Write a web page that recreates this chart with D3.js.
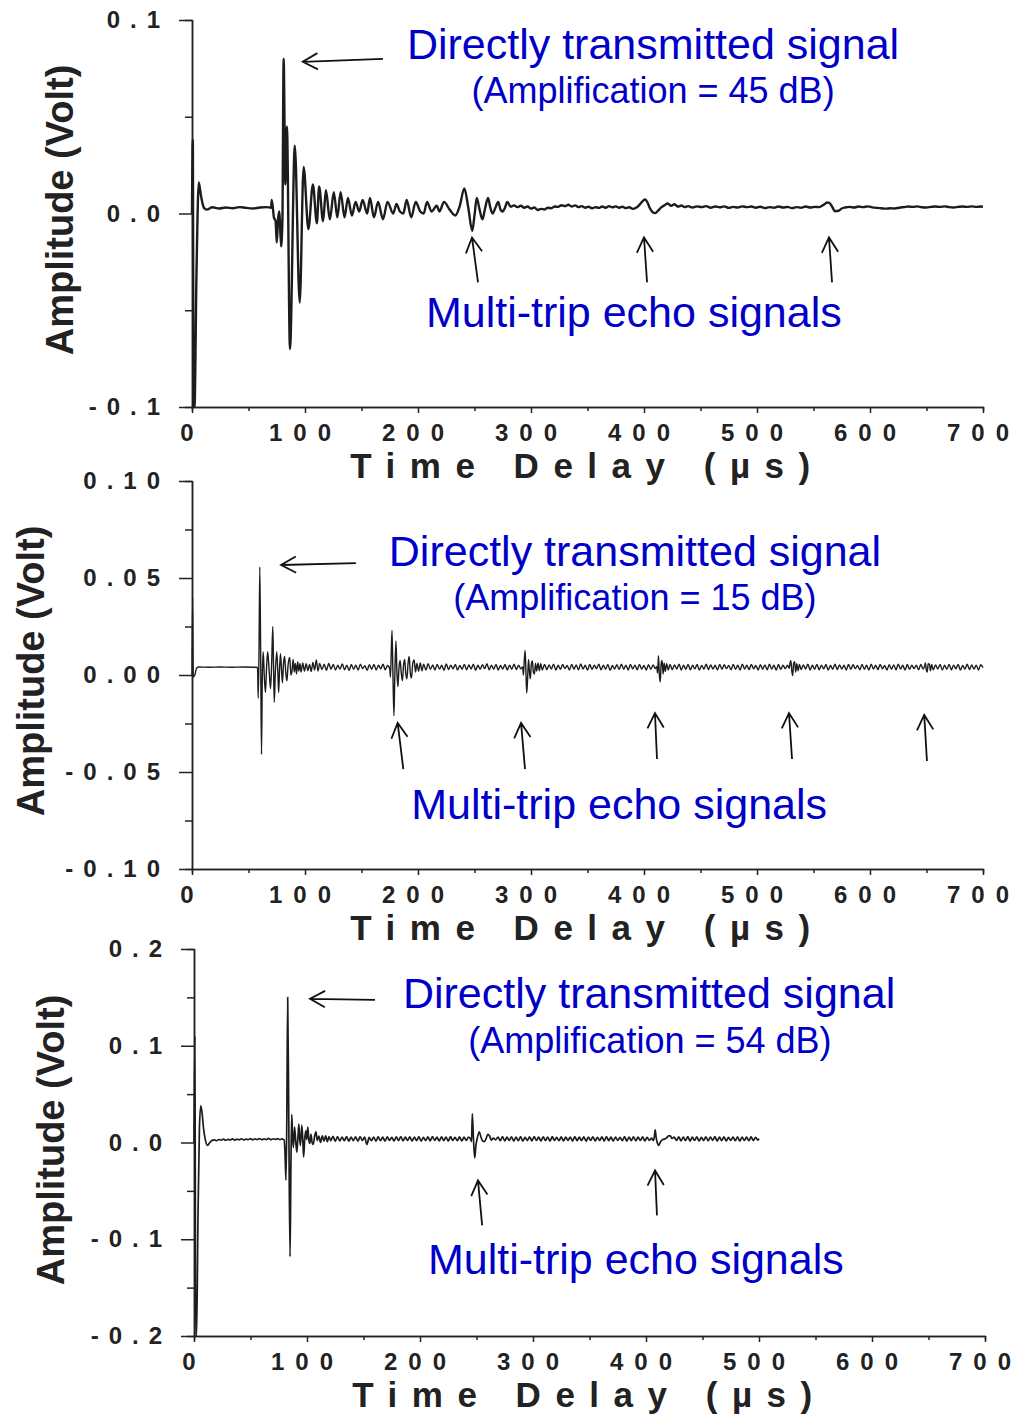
<!DOCTYPE html>
<html>
<head>
<meta charset="utf-8">
<script src="https://cdn.jsdelivr.net/npm/d3@7"></script>
<style>
  body { margin: 0; background: #fff; }
  text { font-family: "Liberation Sans", Arial, sans-serif; }
</style>
</head>
<body>
<svg id="chart" width="1022" height="1414"></svg>
<script>
// ---- data ----
var timeTicks = [0, 100, 200, 300, 400, 500, 600, 700];
var timeMinor = [50, 150, 250, 350, 450, 550, 650];

var ampTicks45 = [-0.1, 0, 0.1];
var ampLabels45 = ["-0.1", "0.0", "0.1"];
var ampMinor45 = [-0.05, 0.05];

var ampTicks15 = [-0.1, -0.05, 0, 0.05, 0.1];
var ampLabels15 = ["-0.10", "-0.05", "0.00", "0.05", "0.10"];
var ampMinor15 = [-0.075, -0.025, 0.025, 0.075];

var ampTicks54 = [-0.2, -0.1, 0, 0.1, 0.2];
var ampLabels54 = ["-0.2", "-0.1", "0.0", "0.1", "0.2"];
var ampMinor54 = [-0.15, -0.05, 0.05, 0.15];

var gains = ["45", "15", "54"];

// [time (us), amplitude (V)]
var sig45 = [[0,0],[0.7,0.038],[1.4,-0.1],[2.2,-0.1],[4,-0.03],[6,0.016],[8,0.009],[10.5,0.003],[13,0.002],[18,0.0032],[24,0.0026],[30,0.0031],[36,0.0027],[42,0.0033],[48,0.0029],[54,0.0026],[60,0.0031],[66,0.0033],[70,0.003],
  [70.6,0.007],[72.5,-0.002],[74,-0.004],[75,-0.015],[76.3,-0.002],[77.4,0.001],[78.8,-0.017],[80,-0.004],[81.1,0.08],[82.6,0.015],[84,0.045],[86.7,-0.07],[91,0.035],[95.3,-0.046],[98.8,0.024],[103,-0.008],
  [107,0.015],[110.5,-0.005],[112.5,0.014],[116,-0.004],[118.5,0.012],[122,-0.003],[125.5,0.011],[128.6,-0.002],[131.5,0.011],[135,-0.002],[138,0.008],[141.5,-0.001],[144.8,0.006],[148,0.001],[151,0.007],[155,0.0],[157.5,0.008],[161,-0.002],[164.7,0.006],[169,-0.003],[173,0.006],[178,0.0],[181,0.005],[184,0.001],[187,0.0],[190,0.007],[194,-0.002],[198,0.006],[202,0.001],[205,0.0],[208,0.006],[212,0.001],[216.6,0.004],[219,0.001],[223,0.006],[228,0.002],[233,-0.001],[237,0.004],
  [241,0.013],[244.5,0.003],[248,-0.009],[250,-0.001],[252,0.008],[254.5,0.002],[257,-0.003],[259.5,0.003],[262,0.008],[264,0.003],[266,0.0],[268.5,0.003],[271,0.006],[273,0.002],[275,0.001],[277,0.003],[279,0.006],
  [282,0.0035],[285,0.0042],[288,0.0033],[291,0.004],[294,0.003],[297,0.0036],[300,0.0025],[303,0.0031],[306,0.0018],[309,0.0024],[312,0.0021],[315,0.003],[318,0.0027],[321,0.0036],[324,0.0034],[327,0.0043],[330,0.0038],[333,0.0045],[336,0.0036],[339,0.0042],[342,0.0033],[345,0.0038],[348,0.003],[351,0.0035],[354,0.0027],[357,0.0033],[360,0.0029],[363,0.0036],[366,0.003],[369,0.0038],[372,0.0032],[375,0.0037],[378,0.003],[381,0.0035],[384,0.0028],[387,0.0032],[390,0.0024],[393,0.003],[396,0.0045],[399,0.0065],[401,0.0072],[403,0.0058],[405,0.003],[407.5,0.0008],[410,0.0002],[412.5,0.0015],[415,0.003],[418,0.0042],[421,0.0052],[424,0.004],[427,0.0048],[430,0.0036],[433,0.0041],[436,0.0033],[439,0.0038],
  [443,0.0031],[447,0.0037],[451,0.0033],[455,0.0038],[459,0.003],[463,0.0036],[467,0.0032],[471,0.0037],[475,0.0029],[479,0.0034],[483,0.0031],[487,0.0037],[491,0.0033],[495,0.0036],[499,0.003],[503,0.0035],[507,0.0028],[511,0.0033],[515,0.003],[519,0.0036],[523,0.0031],[527,0.0034],[531,0.0028],[535,0.0033],[539,0.003],[543,0.0036],[547,0.0031],[551,0.0034],[555,0.0033],[559,0.0045],[562,0.0057],[564,0.0055],[566.5,0.0035],[569,0.0012],[572,0.0014],[575,0.0026],[578,0.0031],
  [582,0.0034],[586,0.0031],[590,0.0036],[594,0.0033],[598,0.0037],[602,0.0032],[606,0.0029],[610,0.0027],[614,0.0025],[618,0.0027],[622,0.0026],[626,0.003],[630,0.0033],[634,0.0036],[638,0.0034],[642,0.0037],[646,0.0032],[650,0.0031],[654,0.0034],[658,0.0036],[662,0.0034],[666,0.0037],[670,0.0033],[674,0.0031],[678,0.0034],[682,0.0036],[686,0.0034],[690,0.0037],[694,0.0034],[698,0.0036],[700,0.0035]];

var sig15 = [[0,0],[0.5,0.04],[1.1,-0.001],[2.5,0.0],[4,0.0035],[6,0.0041],[15,0.004],[25,0.0041],[35,0.004],[45,0.0041],[55,0.004],[58,0.0039],
  [58.6,-0.012],[59.3,0.012],[60,0.0557],[60.8,0.008],[61.5,-0.041],[62.2,-0.002],[63,0.012],[64,-0.001],[65,-0.009],[66,0.004],[67,0.012],[68.4,0.001],[69.5,-0.007],[70.5,0.006],[71.5,0.025],[72.2,0.003],[72.8,-0.014],[73.8,0.002],[75,0.012],[76,0.001],[76.7,-0.009],[77.5,0.003],[78.3,0.011],[79.2,0.003],[80,-0.004],[81,0.006],[82,0.0095],[83,0.001],[84,-0.003],[85,0.005],[86.5,0.009],[87.5,0.0],[88.5,0.002],[89.5,0.008],[90.5,0.0015],[91.5,0.006],[92.5,0.0005],[93.5,0.0068],[94.5,0.002],[95.5,0.006],[96.5,0.0015],[98,0.0062],[99.5,0.002],[101,0.0058],[102.5,0.0022],[104,0.0055],[105.5,0.0018],[107,0.0065],[108.5,0.0025],[110,0.0078],[111.5,0.002],
  [113,0.006],[115,0.0028],[117,0.0056],[119,0.0024],[121,0.006],[123,0.003],[125,0.0055],[127,0.0026],[129,0.005],[131,0.0031],[133,0.0057],[135,0.0027],[137,0.005],[139,0.0023],[141,0.0054],[143,0.003],[145,0.0051],[147,0.0025],[149,0.0056],[151,0.0033],[153,0.0048],[155,0.0024],[157,0.0053],[159,0.0029],[161,0.0055],[163,0.0026],[165,0.005],[167,0.0032],[169,0.0056],[171,0.0027],[173,0.0049],[175,0.0032],
  [175.6,-0.001],[176.3,0.011],[177,0.023],[177.8,0.001],[178.7,-0.021],[179.5,0.0],[180.5,0.0175],[181.3,0.002],[182.2,-0.006],[183.2,0.004],[184.2,0.0075],[185.2,0.001],[186.2,-0.003],[187.2,0.005],[188.2,0.008],[189.2,0.0005],[190.2,-0.002],[191.2,0.006],[192.2,0.0095],[193.2,0.001],[194.2,-0.0015],[195.4,0.006],[196.6,0.0078],[197.8,0.0015],[199,0.006],[200.5,0.002],[202,0.0062],[203.5,0.0022],[205,0.0056],[207,0.0025],[209,0.0058],[211,0.0029],[213,0.0052],[215,0.0026],[217,0.0055],[219,0.0031],[221,0.005],[223,0.0024],[225,0.0057],[227,0.0028],[229,0.0051],[231,0.0032],[233,0.0055],[235,0.0025],[237,0.0049],[239,0.003],[241,0.0054],[243,0.0027],[245,0.0052],[247,0.0031],[249,0.0056],[251,0.0024],[253,0.005],[255,0.0029],[257,0.0053],[259,0.0033],[261,0.0058],[263,0.0027],[265,0.005],[267,0.003],[269,0.0055],[271,0.0025],[273,0.0049],[275,0.0031],[277,0.0054],[279,0.0026],[281,0.0051],[283,0.003],[285,0.0056],[287,0.0028],[289,0.005],[291,0.0032],[292.6,0.0042],
  [293.3,0.0],[294.1,0.008],[294.8,0.0127],[295.5,0.002],[296.2,-0.0093],[297,-0.002],[297.8,0.008],[298.6,0.002],[299.4,-0.002],[300.3,0.0055],[301.2,0.0072],[302.1,0.0015],[303,0.0005],[304,0.006],[305,0.002],[306.2,0.0062],[307.4,0.0022],[308.6,0.0058],[310,0.0026],[312,0.0055],[314,0.0028],[316,0.0052],[318,0.0031],[320,0.0056],[322,0.0025],[324,0.005],[326,0.0029],[328,0.0054],[330,0.0033],[332,0.0049],[334,0.0026],[336,0.0055],[338,0.003],[340,0.0052],[342,0.0027],[344,0.0057],[346,0.0031],[348,0.005],[350,0.0025],[352,0.0054],[354,0.0029],[356,0.0051],[358,0.0033],[360,0.0056],[362,0.0027],[364,0.005],[366,0.003],[368,0.0055],[370,0.0024],[372,0.0049],[374,0.0031],[376,0.0053],[378,0.0028],[380,0.0056],[382,0.003],[384,0.005],[386,0.0026],[388,0.0054],[390,0.0032],[392,0.0051],[394,0.0027],[396,0.0055],[398,0.003],[400,0.0049],[402,0.0025],[404,0.0053],[406,0.0029],[408,0.0052],[410,0.0033],[411.3,0.0043],
  [412,0.001],[412.8,0.0099],[413.6,0.0],[414.4,-0.0036],[415.2,0.006],[416,0.0075],[416.9,0.0005],[417.8,0.0062],[418.8,0.0018],[420,0.0058],[421.5,0.0025],[423,0.0055],[425,0.0028],[427,0.0052],[429,0.0031],[431,0.0056],[433,0.0026],[435,0.005],[437,0.003],[439,0.0055],[441,0.0027],[443,0.0051],[445,0.0032],[447,0.0054],[449,0.0025],[451,0.0049],[453,0.003],[455,0.0056],[457,0.0028],[459,0.0052],[461,0.0031],[463,0.005],[465,0.0026],[467,0.0055],[469,0.0029],[471,0.0053],[473,0.0033],[475,0.0049],[477,0.0027],[479,0.0054],[481,0.003],[483,0.0051],[485,0.0025],[487,0.0056],[489,0.0031],[491,0.005],[493,0.0028],[495,0.0055],[497,0.0032],[499,0.0049],[501,0.0026],[503,0.0053],[505,0.003],[507,0.0052],[509,0.0027],[511,0.0056],[513,0.0031],[515,0.005],[517,0.0025],[519,0.0054],[521,0.0029],[523,0.0051],[525,0.0033],[527,0.005],[528.5,0.0035],
  [529.3,0.0065],[530,0.0074],[530.8,0.002],[531.6,-0.0003],[532.4,0.006],[533.3,0.0068],[534.2,0.0015],[535.2,0.0058],[536.3,0.0022],[537.5,0.0055],[539,0.0028],[541,0.0052],[543,0.0031],[545,0.0056],[547,0.0026],[549,0.005],[551,0.003],[553,0.0055],[555,0.0027],[557,0.0051],[559,0.0032],[561,0.0054],[563,0.0025],[565,0.0049],[567,0.003],[569,0.0056],[571,0.0028],[573,0.0052],[575,0.0031],[577,0.005],[579,0.0026],[581,0.0055],[583,0.0029],[585,0.0053],[587,0.0033],[589,0.0049],[591,0.0027],[593,0.0054],[595,0.003],[597,0.0051],[599,0.0025],[601,0.0056],[603,0.0031],[605,0.005],[607,0.0028],[609,0.0055],[611,0.0032],[613,0.0049],[615,0.0026],[617,0.0053],[619,0.003],[621,0.0052],[623,0.0027],[625,0.0056],[627,0.0031],[629,0.005],[631,0.0025],[633,0.0054],[635,0.0029],[637,0.0051],[639,0.0033],[641,0.005],[643,0.0027],[645,0.0054],[647,0.0031],[648.3,0.0045],
  [649,0.0062],[649.8,0.0028],[650.6,0.0015],[651.5,0.0058],[652.5,0.0056],[653.5,0.0022],[654.6,0.0055],[656,0.0027],[658,0.0052],[660,0.0031],[662,0.0055],[664,0.0026],[666,0.005],[668,0.003],[670,0.0054],[672,0.0027],[674,0.0051],[676,0.0032],[678,0.0055],[680,0.0025],[682,0.0049],[684,0.003],[686,0.0056],[688,0.0028],[690,0.0052],[692,0.0031],[694,0.005],[696,0.0026],[698,0.0053],[700,0.0038]];

var sig54 = [[0,0],[0.8,0.11],[1.5,-0.2],[2.3,-0.2],[3.5,-0.08],[4.8,0.015],[6,0.038],[7,0.032],[8.5,0.014],[10,0.003],[12,-0.003],[14,0.0],[16,0.0022],[18,0.0028],[20,0.0018],[22,0.0031],[24,0.0024],[26,0.0035],[28,0.0022],[30,0.0033],[32,0.0026],[34,0.0037],[36,0.0025],[38,0.0034],[40,0.0028],[42,0.0039],[44,0.0026],[46,0.0036],[48,0.0029],[50,0.004],[52,0.0027],[54,0.0037],[56,0.003],[58,0.0041],[60,0.0028],[62,0.0038],[64,0.003],[66,0.0042],[68,0.0029],[70,0.0039],[72,0.0031],[74,0.004],[76,0.003],[78,0.0038],[79.8,0.0025],
  [80.5,-0.01],[81.4,-0.039],[82.1,0.02],[82.9,0.15],[83.9,0.02],[85,-0.118],[85.8,-0.02],[86.5,0.029],[87.3,0.004],[88,-0.005],[89,0.016],[90,0.002],[91,-0.01],[92,0.006],[92.8,0.019],[93.5,0.004],[94.2,-0.003],[95.4,0.018],[96.3,0.002],[97,-0.015],[98,0.004],[99,0.012],[99.8,0.003],[100.7,0.016],[101.6,0.003],[102.5,-0.001],[103.5,0.0085],[104.5,0.0],[105.5,-0.002],[106.8,0.007],[108,0.011],[109,0.002],[110.5,0.0065],[112,0.0],[113.5,0.007],[115,0.0015],[116.5,0.0068],[118,0.001],[119.5,0.0062],[121,0.0018],
  [123,0.0064],[125,0.0012],[127,0.006],[129,0.0016],[131,0.0057],[133,0.0019],[135,0.0061],[137,0.0014],[139,0.0056],[141,0.002],[143,0.0058],[145,0.0013],[147,0.0062],[149,0.0021],[151,0.0055],[153,-0.002],[155,0.0052],[157,0.0019],[159,0.0057],[161,0.0014],[163,0.006],[165,0.0018],[167,0.0055],[169,0.0015],[171,0.0059],[173,0.0022],[175,0.0054],[177,0.0016],[179,0.0058],[181,0.002],[183,0.0062],[185,0.0017],[187,0.0055],[189,0.0021],[191,0.0059],[193,0.0015],[195,0.0056],[197,0.0019],[199,0.006],[201,0.0014],[203,0.0054],[205,0.002],[207,0.0058],[209,0.0017],[211,0.0061],[213,0.0022],[215,0.0055],[217,0.0016],[219,0.0059],[221,0.002],[223,0.0056],[225,0.0015],[227,0.006],[229,0.0021],[231,0.0054],[233,0.0018],[235,0.0058],[237,0.0016],[239,0.0055],[241,0.0022],[243,0.0057],[245,0.0028],
  [245.6,0.001],[246.3,0.03],[247.3,0.004],[248.4,-0.016],[249.5,-0.003],[250.8,0.005],[252.5,0.011],[254,0.0055],[255.5,0.0015],[257,0.001],[258.5,0.004],[260,0.0085],[261.5,0.007],[263,0.0025],[265,0.0045],[267,0.0028],[269,0.0056],[271,0.0019],[273,0.006],[275,0.0016],[277,0.0055],[279,0.0021],[281,0.0059],[283,0.0015],[285,0.0056],[287,0.0019],[289,0.006],[291,0.0014],[293,0.0054],[295,0.002],[297,0.0058],[299,0.0017],[301,0.0061],[303,0.0022],[305,0.0055],[307,0.0016],[309,0.0059],[311,0.002],[313,0.0056],[315,0.0015],[317,0.006],[319,0.0021],[321,0.0054],[323,0.0018],[325,0.0058],[327,0.0016],[329,0.0055],[331,0.0022],[333,0.0057],[335,0.0015],[337,0.0061],[339,0.0019],[341,0.0055],[343,0.002],[345,0.0058],[347,0.0014],[349,0.0056],[351,0.0021],[353,0.0059],[355,0.0017],[357,0.0054],[359,0.0022],[361,0.0058],[363,0.0015],[365,0.0061],[367,0.0019],[369,0.0055],[371,0.0016],[373,0.0057],[375,0.0021],[377,0.0054],[379,0.0018],[381,0.006],[383,0.0015],[385,0.0056],[387,0.002],[389,0.0059],[391,0.0017],[393,0.0055],[395,0.0021],[397,0.0058],[399,0.0016],[401,0.0054],[403,0.0022],[405,0.0045],[406.5,0.002],
  [407.4,0.006],[408.1,0.013],[409,0.005],[410.2,-0.001],[411.2,-0.003],[412.5,0.0],[414,0.0025],[416,0.0035],[418,0.0045],[420,0.0068],[421.5,0.007],[423,0.0042],[425,0.0055],[427,0.0022],[429,0.0058],[431,0.0017],[433,0.0056],[435,0.002],[437,0.006],[439,0.0015],[441,0.0055],[443,0.0021],[445,0.0058],[447,0.0016],[449,0.0054],[451,0.002],[453,0.0059],[455,0.0017],[457,0.0056],[459,0.0022],[461,0.006],[463,0.0015],[465,0.0055],[467,0.0019],[469,0.0058],[471,0.0016],[473,0.0054],[475,0.0021],[477,0.0057],[479,0.0018],[481,0.0059],[483,0.0015],[485,0.0056],[487,0.0021],[489,0.0055],[491,0.0018],[493,0.0058],[495,0.002],[497,0.0054],[499,0.0024],[500,0.004]];

// ---- layout ----
var panels = [
  { sig: sig45, gain: gains[0], dom: [-0.1, 0.1], ticks: ampTicks45, labels: ampLabels45, minor: ampMinor45,
    left: 192, right: 983, top: 20, bottom: 407, stroke: 2.4, yTitle: [73, 210],
    directAt: [408, 0.0799], gainAt: [408, 0.0572], echoAt: [391, -0.0588],
    directArrow: [[169, 0.0799], [98, 0.0784]],
    echoArrows: [[[253.1, -0.0356], [247.8, -0.0124]], [[402.7, -0.0356], [400, -0.0124]], [[566.4, -0.0356], [563.7, -0.0124]]] },
  { sig: sig15, gain: gains[1], dom: [-0.1, 0.1], ticks: ampTicks15, labels: ampLabels15, minor: ampMinor15,
    left: 192, right: 983, top: 481, bottom: 869, stroke: 1.4, yTitle: [44, 671],
    directAt: [392, 0.0562], gainAt: [392, 0.0335], echoAt: [378, -0.0742],
    directArrow: [[145, 0.0577], [78.8, 0.0567]],
    echoArrows: [[[187, -0.0485], [182, -0.0247]], [[294.7, -0.0485], [291.2, -0.0247]], [[411.5, -0.0433], [409.7, -0.0196]],
                 [[531, -0.0433], [528.3, -0.0196]], [[650.4, -0.0443], [648, -0.0206]]] },
  { sig: sig54, gain: gains[2], dom: [-0.2, 0.2], ticks: ampTicks54, labels: ampLabels54, minor: ampMinor54,
    left: 194, right: 985, top: 949, bottom: 1336, stroke: 1.7, yTitle: [64, 1140],
    directAt: [402.7, 0.139], gainAt: [403.5, 0.0928], echoAt: [391, -0.136],
    directArrow: [[160.2, 0.1474], [102.7, 0.1485]],
    echoArrows: [[[255, -0.0856], [251.3, -0.0392]], [[409.7, -0.0753], [408, -0.0289]]] }
];

var svg = d3.select("#chart");
var blue = "#0000c8";

panels.forEach(function(p, i) {
  var x = d3.scaleLinear().domain([0, 700]).range([p.left, p.right]);
  var y = d3.scaleLinear().domain(p.dom).range([p.bottom, p.top]);
  var g = svg.append("g");

  g.append("clipPath").attr("id", "clip" + i)
    .append("rect").attr("x", p.left - 2).attr("y", p.top - 1)
    .attr("width", p.right - p.left + 4).attr("height", p.bottom - p.top + 2);

  // axes
  var yAxis = d3.axisLeft(y).tickValues(p.ticks).tickSize(13).tickSizeOuter(0).tickPadding(9)
    .tickFormat(function(d, k) { return p.labels[k]; });
  var yMinor = d3.axisLeft(y).tickValues(p.minor).tickSize(7).tickFormat("");
  var xAxis = d3.axisBottom(x).tickValues(timeTicks).tickSize(6).tickSizeOuter(0);
  var xMinor = d3.axisBottom(x).tickValues(timeMinor).tickSize(4).tickFormat("");

  var ya = g.append("g").attr("transform", "translate(" + p.left + ",0)").call(yAxis);
  g.append("g").attr("transform", "translate(" + p.left + ",0)").call(yMinor);
  var xa = g.append("g").attr("transform", "translate(0," + p.bottom + ")").call(xAxis);
  g.append("g").attr("transform", "translate(0," + p.bottom + ")").call(xMinor);

  g.selectAll(".domain, .tick line").attr("stroke", "#222").attr("stroke-width", 1.5);
  ya.selectAll("text").style("font-size", "24px").style("font-weight", "bold")
    .style("letter-spacing", "10px").attr("fill", "#222");
  xa.selectAll("text").style("font-size", "24px").style("font-weight", "bold")
    .style("letter-spacing", "11px").attr("fill", "#222").attr("y", 34).attr("dy", 0);

  // axis titles
  g.append("text").attr("x", x(350)).attr("y", p.bottom + 71)
    .attr("text-anchor", "middle").style("font-size", "35px").style("font-weight", "bold")
    .style("letter-spacing", "14.5px").attr("fill", "#222").text("Time Delay (\u00b5s)");
  g.append("text").attr("transform", "translate(" + p.yTitle[0] + "," + p.yTitle[1] + ") rotate(-90)")
    .attr("text-anchor", "middle").style("font-size", "38px").style("font-weight", "bold")
    .attr("fill", "#222").text("Amplitude (Volt)");

  // signal
  var line = d3.line().x(function(d) { return x(d[0]); }).y(function(d) { return y(d[1]); })
    .curve(d3.curveMonotoneX);
  g.append("path").datum(p.sig).attr("clip-path", "url(#clip" + i + ")")
    .attr("d", line).attr("fill", "none").attr("stroke", "#1c1c1c")
    .attr("stroke-width", p.stroke).attr("stroke-linejoin", "round");

  // annotations
  g.append("text").attr("x", x(p.directAt[0])).attr("y", y(p.directAt[1]))
    .attr("text-anchor", "middle").style("font-size", "43px").attr("fill", blue)
    .text("Directly transmitted signal");
  g.append("text").attr("x", x(p.gainAt[0])).attr("y", y(p.gainAt[1]))
    .attr("text-anchor", "middle").style("font-size", "36px").attr("fill", blue)
    .text("(Amplification = " + p.gain + " dB)");
  g.append("text").attr("x", x(p.echoAt[0])).attr("y", y(p.echoAt[1]))
    .attr("text-anchor", "middle").style("font-size", "43px").attr("fill", blue)
    .text("Multi-trip echo signals");

  var arrows = [p.directArrow].concat(p.echoArrows);
  arrows.forEach(function(a) {
    var x0 = x(a[0][0]), y0 = y(a[0][1]), x1 = x(a[1][0]), y1 = y(a[1][1]);
    var ang = Math.atan2(y0 - y1, x0 - x1);
    var len = 17, spread = 0.5;
    var path = d3.path();
    path.moveTo(x0, y0); path.lineTo(x1, y1);
    path.moveTo(x1 + len * Math.cos(ang - spread), y1 + len * Math.sin(ang - spread));
    path.lineTo(x1, y1);
    path.lineTo(x1 + len * Math.cos(ang + spread), y1 + len * Math.sin(ang + spread));
    g.append("path").attr("d", path.toString()).attr("fill", "none")
      .attr("stroke", "#111").attr("stroke-width", 1.8);
  });
});
</script>
</body>
</html>
